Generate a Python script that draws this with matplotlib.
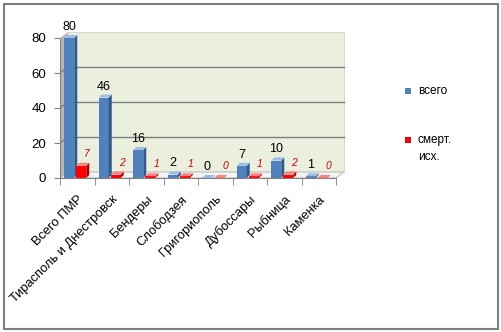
import numpy as np
import matplotlib.pyplot as plt
from matplotlib.patches import Polygon, Rectangle

plt.rcParams['font.family'] = ['Liberation Sans', 'DejaVu Sans']

districts = ["Всего ПМР", "Тирасполь и Днестровск", "Бендеры", "Слободзея",
             "Григориополь", "Дубоссары", "Рыбница", "Каменка"]
total = [80, 46, 16, 2, 0, 7, 10, 1]
deaths = [7, 2, 1, 1, 0, 1, 2, 0]

W, H = 501, 332
fig = plt.figure(figsize=(W / 100, H / 100), dpi=100)

# pixel scale of the plot: one category = 34.5 px, one unit = 1.75 px
PX_CAT = 34.5
PX_VAL = 1.75
x0, x1 = -0.5, 7.8
y0, y1 = 0, 86
ax = fig.add_axes([60 / W, (H - 178) / H, (x1 - x0) * PX_CAT / W, (y1 - y0) * PX_VAL / H])
ax.set_xlim(x0, x1)
ax.set_ylim(y0, y1)
ax.patch.set_visible(False)

# depth of the walls and of the bars, in data units
WDX, WDY = 8 / PX_CAT, 6 / PX_VAL
BDX, BDY = 3 / PX_CAT, 3 / PX_VAL

# back wall, left wall and floor
ax.add_patch(Polygon([(-0.5 + WDX, WDY), (7.5 + WDX, WDY), (7.5 + WDX, 80 + WDY), (-0.5 + WDX, 80 + WDY)],
                     closed=True, fc="#EAF0DD", ec="#D8DCCF", lw=0.8, zorder=0))
ax.add_patch(Polygon([(-0.5, 0), (-0.5 + WDX, WDY), (-0.5 + WDX, 80 + WDY), (-0.5, 80)],
                     closed=True, fc="#B8B8B8", ec="none", zorder=0.5))
for v in (20, 40, 60):
    ax.plot([-0.5 + WDX, 7.5 + WDX], [v + WDY, v + WDY], color="#7F7F7F", lw=1, zorder=0.6)
    ax.plot([-0.5, -0.5 + WDX], [v, v + WDY], color="#7F7F7F", lw=1, zorder=0.6)
ax.add_patch(Polygon([(-0.5, 0), (7.5, 0), (7.5 + WDX, WDY), (-0.5 + WDX, WDY)],
                     closed=True, fc="#F4F4F4", ec="#BFBFBF", lw=0.8, zorder=0.7))


def bar3d(x, w, h, front, side, top):
    ax.add_patch(Rectangle((x, 0), w, h, fc=front, ec="none", zorder=2))
    ax.add_patch(Polygon([(x + w, 0), (x + w + BDX, BDY), (x + w + BDX, h + BDY), (x + w, h)],
                         closed=True, fc=side, ec="none", zorder=2))
    ax.add_patch(Polygon([(x, h), (x + w, h), (x + w + BDX, h + BDY), (x + BDX, h + BDY)],
                         closed=True, fc=top, ec="none", zorder=2))


bw = 10 / PX_CAT
for i in range(len(districts)):
    xb = i - 13 / PX_CAT
    xr = i - 1 / PX_CAT
    bar3d(xb, bw, total[i], "#4F81BD", "#2F5A8C", "#9DBCE3")
    bar3d(xr, bw, deaths[i], "#FF0000", "#B00000", "#FF8080")
    ax.text(xb + bw / 2, total[i] + 11 / PX_VAL, str(total[i]), ha="center", va="center",
            fontsize=9, color="black", zorder=3)
    ax.text(xr + bw / 2 + 6 / PX_CAT, deaths[i] + 12 / PX_VAL, str(deaths[i]), ha="center",
            va="center", fontsize=7.5, color="#D00000", style="italic", zorder=3)

# axes
for s in ("top", "right"):
    ax.spines[s].set_visible(False)
ax.spines["left"].set_bounds(0, 80)
ax.spines["bottom"].set_bounds(-0.5, 7.5)
ax.spines["left"].set_color("#808080")
ax.spines["bottom"].set_color("#808080")
ax.set_yticks([0, 20, 40, 60, 80])
ax.tick_params(axis="y", length=4, color="#808080", labelsize=9.5, pad=6)
ax.set_xticks(np.arange(len(districts)))
ax.set_xticklabels(districts, rotation=45, ha="right", rotation_mode="anchor", fontsize=9.3)
ax.set_xticks(np.arange(-0.5, 8, 1), minor=True)
ax.tick_params(axis="x", which="major", length=0, pad=11)
ax.tick_params(axis="x", which="minor", length=5, color="#808080")

# legend
fig.patches.append(Rectangle((405 / W, 1 - 94 / H), 6 / W, 6 / H, fc="#4F81BD",
                             transform=fig.transFigure, figure=fig))
fig.text(418 / W, 1 - 91 / H, "всего", fontsize=8.5, va="center")
fig.patches.append(Rectangle((405 / W, 1 - 143 / H), 6 / W, 6 / H, fc="#FF0000",
                             transform=fig.transFigure, figure=fig))
fig.text(418 / W, 1 - 140 / H, "смерт.", fontsize=8.5, va="center")
fig.text(418 / W, 1 - 157 / H, "исх.", fontsize=8.5, va="center")

# chart border
fig.patches.append(Rectangle((3.5 / W, 3.5 / H), 494.5 / W, 325 / H, fill=False, ec="#7F7F7F",
                             lw=1.5, transform=fig.transFigure, figure=fig))

fig.savefig("out.png", dpi=100)
